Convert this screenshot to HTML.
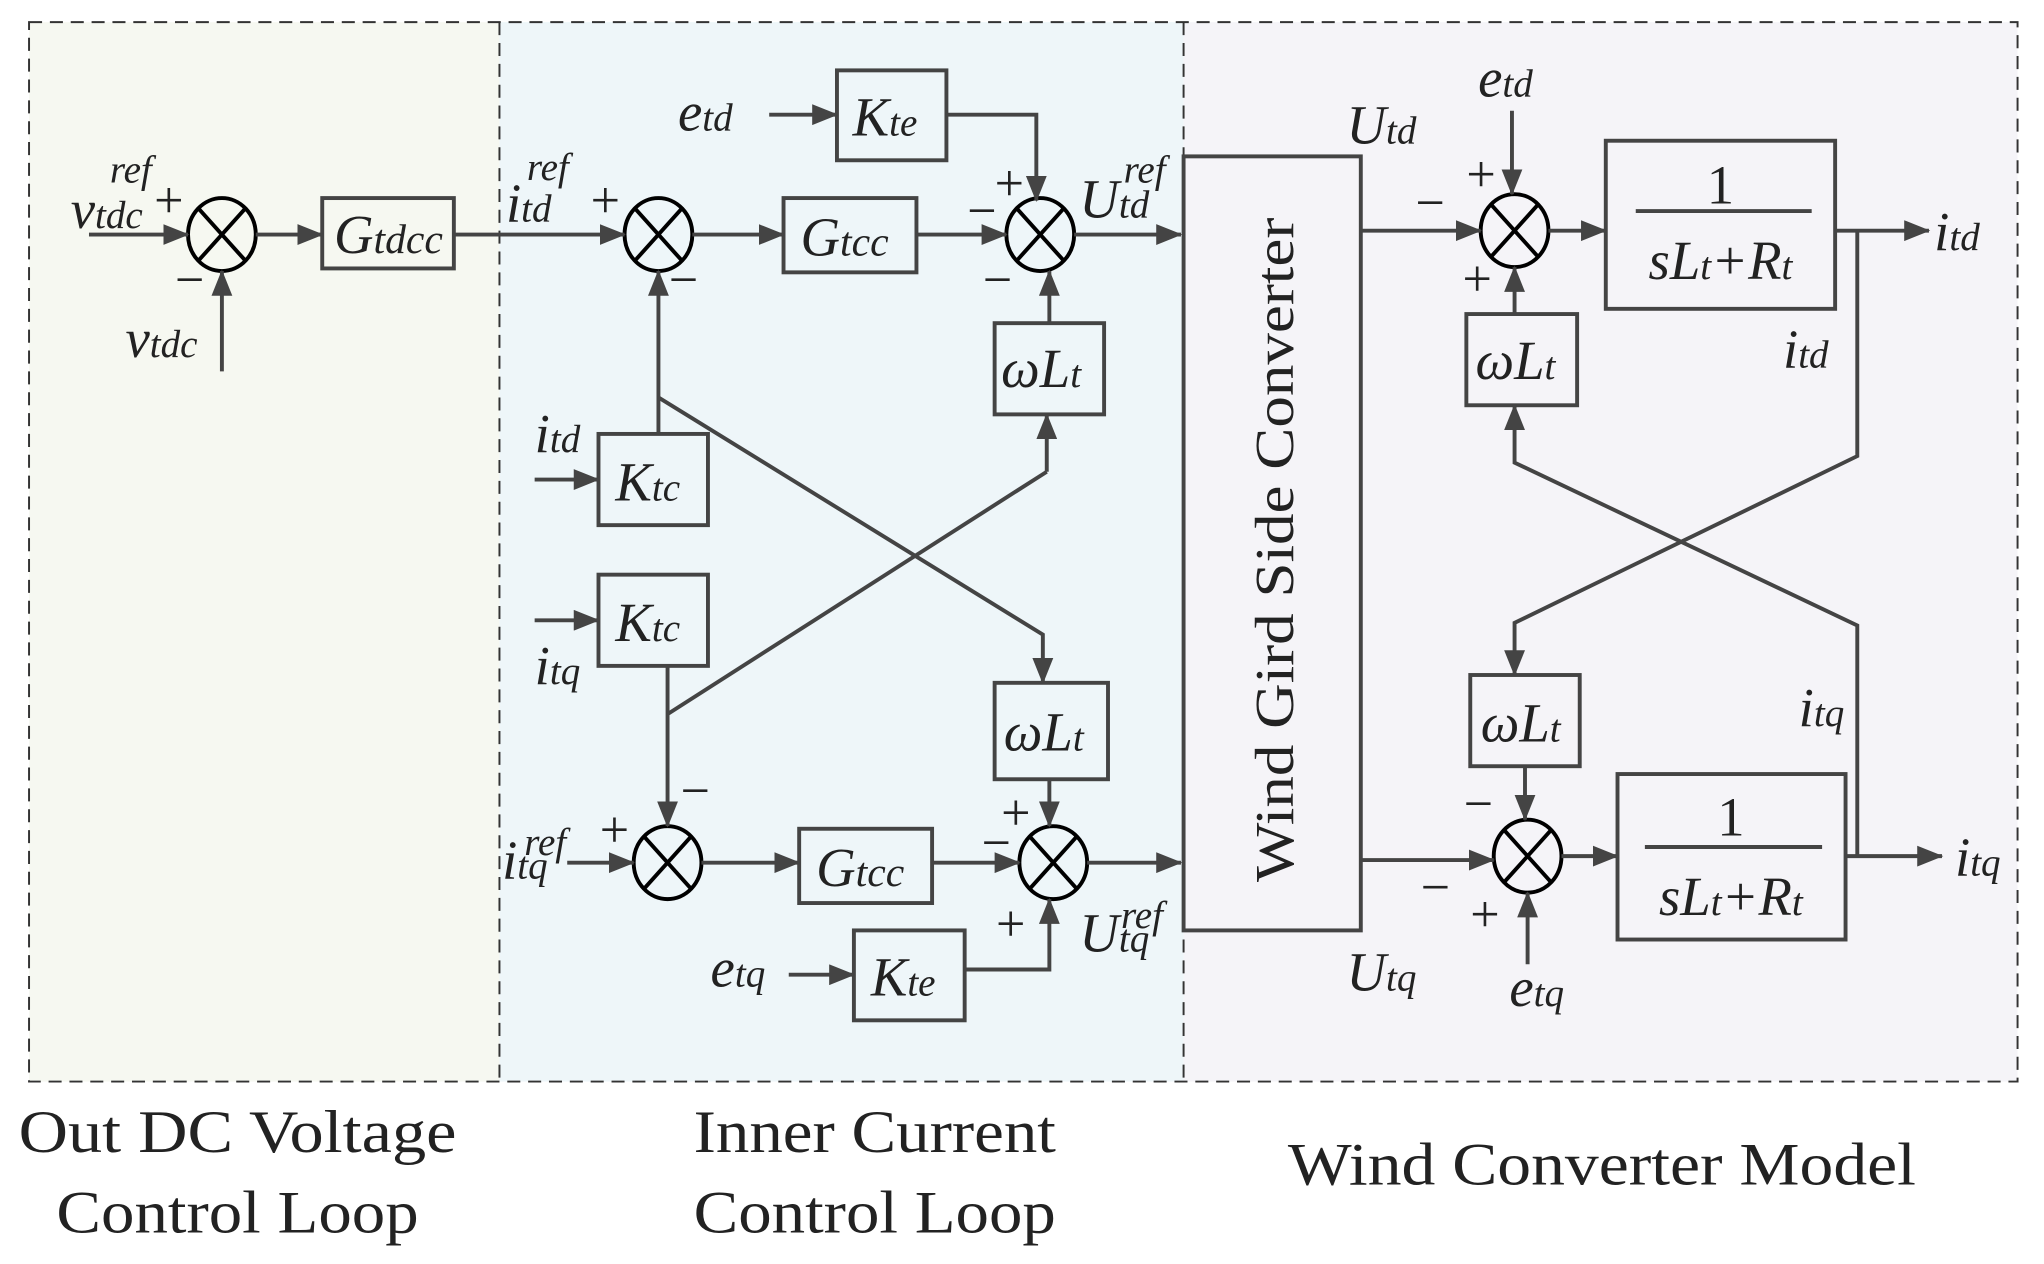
<!DOCTYPE html>
<html><head><meta charset="utf-8"><style>
html,body{margin:0;padding:0;background:#fff;}
svg{display:block;}
text{font-family:"Liberation Serif",serif;fill:#222;}
.i{font-style:italic;}
</style></head><body>
<svg width="2044" height="1264" viewBox="0 0 1568 970" xmlns="http://www.w3.org/2000/svg">
<defs>
<marker id="a" markerWidth="20" markerHeight="16" refX="19" refY="8" orient="auto" markerUnits="userSpaceOnUse" viewBox="0 0 20 16">
<path d="M0,0 L20,8 L0,16 z" fill="#444"/></marker>
</defs>
<g>
<rect x="22" y="17" width="361" height="813" fill="#f6f8f1"/>
<rect x="383" y="17" width="525" height="813" fill="#eef6f9"/>
<rect x="908" y="17" width="640" height="813" fill="#f5f4f8"/>
<g fill="none" stroke="#333" stroke-width="1.5" stroke-dasharray="10,6">
<rect x="22" y="17" width="1526" height="813"/>
<line x1="383" y1="17" x2="383" y2="830"/>
<line x1="908" y1="17" x2="908" y2="830"/>
</g>
</g>
<g fill="none" stroke="#444" stroke-width="3">
<rect x="247" y="152" width="101" height="54"/>
<rect x="601" y="152" width="102" height="57"/>
<rect x="642" y="54" width="84" height="69"/>
<rect x="763" y="248" width="84" height="70"/>
<rect x="459" y="333" width="84" height="70"/>
<rect x="459" y="441" width="84" height="70"/>
<rect x="613" y="636" width="102" height="57"/>
<rect x="763" y="524" width="87" height="74"/>
<rect x="655" y="714" width="85" height="69"/>
<rect x="908" y="120" width="136" height="594"/>
<rect x="1232" y="108" width="176" height="129"/>
<rect x="1125" y="241" width="85" height="70"/>
<rect x="1128" y="518" width="84" height="70"/>
<rect x="1241" y="594" width="175" height="127"/>
</g>
<g fill="none" stroke="#000" stroke-width="3">
<g><ellipse cx="170" cy="180" rx="26" ry="28"/><line x1="152" y1="160" x2="188" y2="200"/><line x1="188" y1="160" x2="152" y2="200"/></g>
<g><ellipse cx="505" cy="180" rx="26" ry="28"/><line x1="487" y1="160" x2="523" y2="200"/><line x1="523" y1="160" x2="487" y2="200"/></g>
<g><ellipse cx="798" cy="180" rx="26" ry="28"/><line x1="780" y1="160" x2="816" y2="200"/><line x1="816" y1="160" x2="780" y2="200"/></g>
<g><ellipse cx="512" cy="662" rx="26" ry="28"/><line x1="494" y1="642" x2="530" y2="682"/><line x1="530" y1="642" x2="494" y2="682"/></g>
<g><ellipse cx="808" cy="662" rx="26" ry="28"/><line x1="790" y1="642" x2="826" y2="682"/><line x1="826" y1="642" x2="790" y2="682"/></g>
<g><ellipse cx="1162" cy="177" rx="26" ry="28"/><line x1="1144" y1="157" x2="1180" y2="197"/><line x1="1180" y1="157" x2="1144" y2="197"/></g>
<g><ellipse cx="1172" cy="657" rx="26" ry="28"/><line x1="1154" y1="637" x2="1190" y2="677"/><line x1="1190" y1="637" x2="1154" y2="677"/></g>
</g>
<g fill="none" stroke="#444" stroke-width="3" marker-end="url(#a)">
<line x1="68" y1="180" x2="144" y2="180"/>
<line x1="170" y1="285" x2="170" y2="208"/>
<line x1="196" y1="180" x2="247" y2="180"/>
<line x1="348" y1="180" x2="479" y2="180"/>
<line x1="531" y1="180" x2="601" y2="180"/>
<line x1="703" y1="180" x2="772" y2="180"/>
<line x1="590" y1="88" x2="642" y2="88"/>
<polyline points="726,88 795,88 795,154"/>
<line x1="824" y1="180" x2="906" y2="180"/>
<line x1="805" y1="248" x2="805" y2="208"/>
<line x1="803" y1="362" x2="803" y2="318"/>
<line x1="410" y1="368" x2="459" y2="368"/>
<line x1="505" y1="333" x2="505" y2="208"/>
<polyline points="505,305 800,487 800,524"/>
<line x1="410" y1="476" x2="459" y2="476"/>
<line x1="512" y1="511" x2="512" y2="634"/>
<line x1="435" y1="662" x2="486" y2="662"/>
<line x1="538" y1="662" x2="613" y2="662"/>
<line x1="715" y1="662" x2="782" y2="662"/>
<line x1="805" y1="598" x2="805" y2="634"/>
<line x1="605" y1="748" x2="655" y2="748"/>
<polyline points="740,744 805,744 805,690"/>
<line x1="834" y1="662" x2="906" y2="662"/>
<line x1="1044" y1="177" x2="1136" y2="177"/>
<line x1="1160" y1="85" x2="1160" y2="149"/>
<line x1="1188" y1="177" x2="1232" y2="177"/>
<line x1="1408" y1="177" x2="1480" y2="177"/>
<line x1="1162" y1="241" x2="1162" y2="205"/>
<polyline points="1425,177 1425,350 1162,478 1162,518"/>
<polyline points="1425,657 1425,480 1162,355 1162,311"/>
<line x1="1170" y1="588" x2="1170" y2="629"/>
<line x1="1044" y1="660" x2="1146" y2="660"/>
<line x1="1172" y1="740" x2="1172" y2="685"/>
<line x1="1198" y1="657" x2="1241" y2="657"/>
<line x1="1416" y1="657" x2="1490" y2="657"/>
</g>
<g fill="none" stroke="#444" stroke-width="3">
<line x1="512" y1="548" x2="803" y2="362"/>
<line x1="1255" y1="162" x2="1390" y2="162"/>
<line x1="1262" y1="650" x2="1398" y2="650"/>
</g>
<g font-size="42">
<text x="54" y="175" class="i">v<tspan font-size="30">tdc</tspan></text>
<text x="84" y="140" class="i" font-size="30">ref</text>
<text x="118" y="167" font-size="40">+</text>
<text x="134" y="228" font-size="40">−</text>
<text x="96" y="274" class="i">v<tspan font-size="30">tdc</tspan></text>
<text x="256" y="194" class="i">G<tspan font-size="32">tdcc</tspan></text>
<text x="388" y="170" class="i">i<tspan font-size="30">td</tspan></text>
<text x="404" y="138" class="i" font-size="30">ref</text>
<text x="453" y="167" font-size="40">+</text>
<text x="513" y="228" font-size="40">−</text>
<text x="520" y="100" class="i">e<tspan font-size="30">td</tspan></text>
<text x="654" y="104" class="i">K<tspan font-size="30">te</tspan></text>
<text x="614" y="196" class="i">G<tspan font-size="32">tcc</tspan></text>
<text x="763" y="154" font-size="40">+</text>
<text x="742" y="175" font-size="40">−</text>
<text x="754" y="228" font-size="40">−</text>
<text x="828" y="167" class="i">U<tspan font-size="30">td</tspan></text>
<text x="862" y="140" class="i" font-size="30">ref</text>
<text x="768" y="297" class="i">ωL<tspan font-size="30">t</tspan></text>
<text x="410" y="347" class="i">i<tspan font-size="30">td</tspan></text>
<text x="472" y="384" class="i">K<tspan font-size="30">tc</tspan></text>
<text x="472" y="492" class="i">K<tspan font-size="30">tc</tspan></text>
<text x="410" y="525" class="i">i<tspan font-size="30">tq</tspan></text>
<text x="522" y="620" font-size="40">−</text>
<text x="460" y="650" font-size="40">+</text>
<text x="385" y="674" class="i">i<tspan font-size="30">tq</tspan></text>
<text x="402" y="656" class="i" font-size="30">ref</text>
<text x="626" y="680" class="i">G<tspan font-size="32">tcc</tspan></text>
<text x="770" y="576" class="i">ωL<tspan font-size="30">t</tspan></text>
<text x="768" y="637" font-size="40">+</text>
<text x="753" y="660" font-size="40">−</text>
<text x="764" y="722" font-size="40">+</text>
<text x="545" y="757" class="i">e<tspan font-size="30">tq</tspan></text>
<text x="668" y="764" class="i">K<tspan font-size="30">te</tspan></text>
<text x="828" y="730" class="i">U<tspan font-size="30">tq</tspan></text>
<text x="860" y="712" class="i" font-size="30">ref</text>
<text x="0" y="0" font-size="42" text-anchor="middle" textLength="510" lengthAdjust="spacingAndGlyphs" transform="translate(992,422) rotate(-90)">Wind Gird Side Converter</text>
<text x="1033" y="110" class="i">U<tspan font-size="30">td</tspan></text>
<text x="1033" y="760" class="i">U<tspan font-size="30">tq</tspan></text>
<text x="1086" y="169" font-size="40">−</text>
<text x="1134" y="74" class="i">e<tspan font-size="30">td</tspan></text>
<text x="1125" y="147" font-size="40">+</text>
<text x="1122" y="227" font-size="40">+</text>
<text x="1320" y="156" text-anchor="middle">1</text>
<text x="1320" y="214" text-anchor="middle" class="i">sL<tspan font-size="30">t</tspan>+R<tspan font-size="30">t</tspan></text>
<text x="1484" y="192" class="i">i<tspan font-size="30">td</tspan></text>
<text x="1368" y="282" class="i">i<tspan font-size="30">td</tspan></text>
<text x="1132" y="291" class="i">ωL<tspan font-size="30">t</tspan></text>
<text x="1136" y="569" class="i">ωL<tspan font-size="30">t</tspan></text>
<text x="1380" y="557" class="i">i<tspan font-size="30">tq</tspan></text>
<text x="1123" y="630" font-size="40">−</text>
<text x="1090" y="694" font-size="40">−</text>
<text x="1128" y="715" font-size="40">+</text>
<text x="1158" y="772" class="i">e<tspan font-size="30">tq</tspan></text>
<text x="1328" y="641" text-anchor="middle">1</text>
<text x="1328" y="702" text-anchor="middle" class="i">sL<tspan font-size="30">t</tspan>+R<tspan font-size="30">t</tspan></text>
<text x="1500" y="672" class="i">i<tspan font-size="30">tq</tspan></text>
</g>
<g font-size="46">
<text x="14" y="884" textLength="336" lengthAdjust="spacingAndGlyphs">Out DC Voltage</text>
<text x="43" y="946" textLength="278" lengthAdjust="spacingAndGlyphs">Control Loop</text>
<text x="532" y="884" textLength="278" lengthAdjust="spacingAndGlyphs">Inner Current</text>
<text x="532" y="946" textLength="278" lengthAdjust="spacingAndGlyphs">Control Loop</text>
<text x="988" y="909" textLength="482" lengthAdjust="spacingAndGlyphs">Wind Converter Model</text>
</g>
</svg>
</body></html>
